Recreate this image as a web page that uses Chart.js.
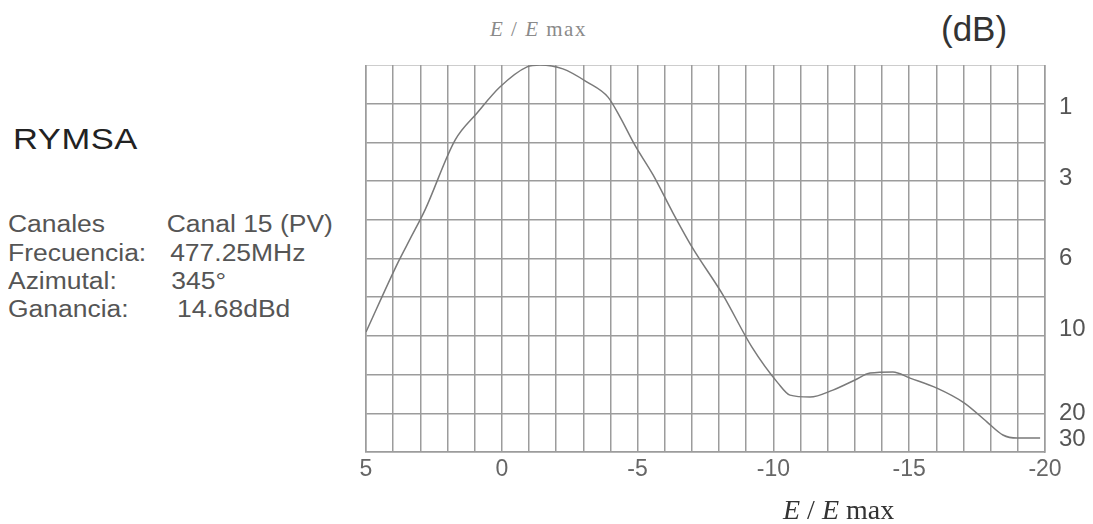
<!DOCTYPE html>
<html>
<head>
<meta charset="utf-8">
<script src="https://cdn.jsdelivr.net/npm/chart.js@4/dist/chart.umd.min.js"></script>
<style>
  html, body { margin: 0; padding: 0; background: #fff; width: 1093px; height: 524px; overflow: hidden; }
  body { position: relative; font-family: Arial, "Liberation Sans", sans-serif; }
  #chart-wrap { position: absolute; left: 340px; top: 65px; width: 753px; height: 459px; }
  .info { position: absolute; left: 8px; top: 0; transform: scaleX(1.15); transform-origin: left top; color: #555; }
  .brand { position: absolute; left: 13px; top: 122px; transform: scaleX(1.15); transform-origin: left top;
           font-size: 30px; color: #222; letter-spacing: 0.5px; }
  .row { position: absolute; font-size: 23px; white-space: nowrap; }
  .row .val { position: absolute; }
  .top-title { position: absolute; left: 490px; top: 17px; font-family: "Liberation Serif", "DejaVu Serif", serif;
               font-size: 21px; color: #8a8a8a; letter-spacing: 1.5px; white-space: nowrap; }
  .db { position: absolute; left: 941px; top: 9px; font-size: 35px; color: #333; }
  .x-title { position: absolute; left: 783px; top: 494px; font-family: "Liberation Serif", "DejaVu Serif", serif;
             font-size: 28px; color: #333; white-space: nowrap; }
  i { font-style: italic; }
</style>
</head>
<body>
<div class="top-title"><i>E</i> / <i>E</i> max</div>
<div class="db">(dB)</div>
<div class="brand">RYMSA</div>
<div class="info">
  <div class="row" style="top:211px">Canales<span class="val" style="left:138px">Canal 15 (PV)</span></div>
  <div class="row" style="top:240px">Frecuencia:<span class="val" style="left:141px">477.25MHz</span></div>
  <div class="row" style="top:268px">Azimutal:<span class="val" style="left:142px">345°</span></div>
  <div class="row" style="top:296px">Ganancia:<span class="val" style="left:147px">14.68dBd</span></div>
</div>
<div id="chart-wrap"><canvas id="pattern-chart"></canvas></div>
<div class="x-title"><i>E</i> / <i>E</i> max</div>

<script>
// angle (deg) and relative field E/Emax
const angles = [5, 3.82, 3.38, 2.83, 1.72, 0.91, 0.07, -0.93, -1.41, -2.25, -3.14, -3.91, -4.35, -4.9,
  -5.57, -6.3, -7.0, -8.14, -9.21, -10.17, -10.61, -11.35, -12.19, -13.0, -13.56, -14.4, -15.03,
  -16.02, -17.02, -17.86, -18.45, -18.97, -19.82];
const fieldValues = [0.31, 0.49, 0.55, 0.625, 0.806, 0.876, 0.943, 0.995, 1.0, 0.99, 0.956, 0.917, 0.866,
  0.793, 0.716, 0.618, 0.53, 0.406, 0.271, 0.178, 0.147, 0.142, 0.16, 0.186, 0.204, 0.207, 0.191,
  0.165, 0.127, 0.078, 0.044, 0.036, 0.036];

const xTickLabels = [5, 0, -5, -10, -15, -20];
const dbTickLabels = [1, 3, 6, 10, 20, 30];

const gridColor = "#9c9c9c";

// fixed axis sizes, no label overflow padding, so the plot box lands where the scan has it
function fixSize(prop, size) {
  return (scale) => {
    scale[prop] = size;
    scale.paddingTop = 0;
    scale.paddingBottom = 0;
    scale.paddingLeft = 0;
    scale.paddingRight = 0;
  };
}

function buildChart() {
  const ctx = document.getElementById("pattern-chart").getContext("2d");
  const points = angles.map((a, i) => ({ x: a, y: fieldValues[i] }));

  return new Chart(ctx, {
    type: "line",
    data: {
      datasets: [
        {
          data: points,
          borderColor: "#7a7a7a",
          borderWidth: 1.5,
          pointRadius: 0,
          fill: false,
          cubicInterpolationMode: "monotone",
        },
      ],
    },
    options: {
      responsive: true,
      maintainAspectRatio: false,
      animation: false,
      layout: { padding: 0 },
      plugins: {
        legend: { display: false },
        tooltip: { enabled: false },
      },
      scales: {
        x: {
          type: "linear",
          min: -20,
          max: 5,
          reverse: true,
          grid: { color: gridColor, lineWidth: 1.5, drawTicks: false },
          border: { color: gridColor, width: 1.5 },
          ticks: {
            stepSize: 1,
            autoSkip: false,
            maxRotation: 0,
            padding: 4,
            color: "#666",
            font: { family: "Arial", size: 23 },
            callback: (v) => (xTickLabels.includes(v) ? String(v) : ""),
          },
          afterFit: fixSize("height", 72),
        },
        y: {
          position: "left",
          min: 0,
          max: 1,
          grid: { color: gridColor, lineWidth: 1.5, drawTicks: false },
          border: { color: gridColor, width: 1.5 },
          ticks: { stepSize: 0.1, display: false },
          afterFit: fixSize("width", 26),
        },
        db: {
          position: "right",
          min: 0,
          max: 1,
          grid: { display: false, drawTicks: false },
          border: { color: gridColor, width: 1.5 },
          afterBuildTicks: (scale) => {
            scale.ticks = dbTickLabels.map((db) => ({ value: Math.pow(10, -db / 20) }));
          },
          ticks: {
            padding: 14,
            color: "#555",
            font: { family: "Arial", size: 24 },
            callback: (v, i) => String(dbTickLabels[i]),
          },
          afterFit: fixSize("width", 48),
        },
      },
    },
  });
}

document.addEventListener("DOMContentLoaded", () => {
  buildChart();
});
</script>
</body>
</html>
